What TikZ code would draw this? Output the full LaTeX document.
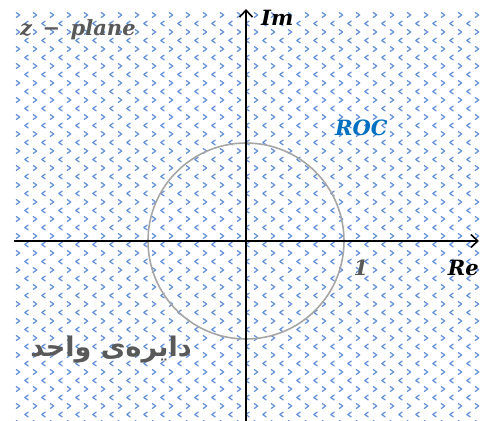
\documentclass[tikz,border=0pt]{standalone}
\usepackage{fontspec}
\usetikzlibrary{arrows.meta}
\newfontfamily\arabicfont[Script=Arabic]{DejaVu Sans}
\newfontfamily\labfont{DejaVu Serif}
\TeXXeTstate=1
\definecolor{patblue}{RGB}{100,145,215}
\definecolor{txtgray}{RGB}{89,89,89}
\definecolor{rocblue}{RGB}{0,112,192}
\tikzset{
  chev/.style={draw=patblue, line width=1.25pt, line cap=round, line join=round},
  axis/.style={draw=black, line width=2.4pt, -{Straight Barb[length=7pt,width=13pt,line width=1.6pt]}},
  unitcirc/.style={circle, draw=black!35, line width=1.6pt, minimum size=196pt, inner sep=0pt},
  lbl/.style={inner sep=0pt, font=\labfont\bfseries\itshape\fontsize{21}{24}\selectfont}
}
\begin{document}
\begin{tikzpicture}[x=1pt,y=-1pt]
\useasboundingbox (0,0) rectangle (481,420);
\fill[white] (0,0) rectangle (481,420);
\begin{scope}
\clip (12,10) rectangle (481,420);
\foreach \r in {0,...,48} {
  \pgfmathsetmacro{\yy}{15+8.5*\r}
  \pgfmathsetmacro{\off}{mod(\r,2)*8.5}
  \pgfmathsetmacro{\s}{1-2*mod(\r,2)}
  \foreach \c in {0,...,28} {
    \pgfmathsetmacro{\xx}{18+\off+17*\c}
    \draw[chev] (\xx-1.7*\s,\yy-2.4) -- (\xx+1.7*\s,\yy) -- (\xx-1.7*\s,\yy+2.4);
  }
}
\end{scope}
\node[unitcirc] (uc) at (246,241) {};
\coordinate (W) at (14,241);
\coordinate (E) at (479,241);
\coordinate (S) at (246,421);
\coordinate (N) at (246,9);
\draw[axis] (W) -- (E);
\draw[axis] (S) -- (N);
\node[lbl, text=txtgray, anchor=west] (zp) at (20,30) {z\hspace{0.5em}−\hspace{0.5em}plane};
\node[lbl, anchor=west] (im) at (261,18) {Im};
\node[lbl, text=rocblue, anchor=west] (roc) at (335,128) {ROC};
\node[lbl, text=txtgray] (one) at (361,268) {1};
\node[lbl, anchor=east] (re) at (479,268) {Re};
\node[inner sep=0pt, text=txtgray, font=\arabicfont\bfseries\fontsize{27}{30}\selectfont] (uw) at (111,350) {\beginR دایره‌ی واحد\endR};
\end{tikzpicture}
\end{document}
